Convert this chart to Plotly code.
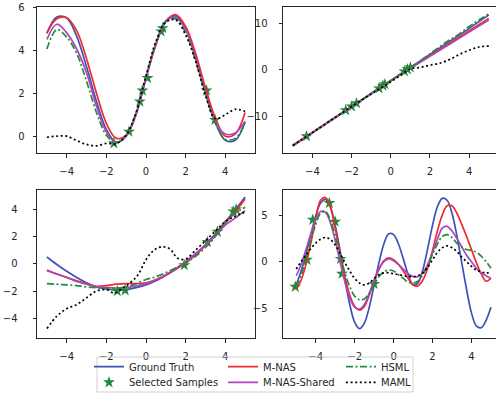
import plotly.graph_objects as go

# ---------------- data ----------------
X_H = [-5, -4.5, -4, -3.5, -3, -2.5, -2, -1.5, -1, -0.5, 0, 0.5, 1, 1.5, 2, 2.5, 3, 3.5, 4, 4.5, 5]
X_1 = [-5, -4, -3, -2, -1, 0, 1, 2, 3, 4, 5]
X_Q = [-5, -4.75, -4.5, -4.25, -4, -3.75, -3.5, -3.25, -3, -2.75, -2.5, -2.25, -2, -1.75, -1.5, -1.25,
       -1, -0.75, -0.5, -0.25, 0, 0.25, 0.5, 0.75, 1, 1.25, 1.5, 1.75, 2, 2.25, 2.5, 2.75, 3, 3.25,
       3.5, 3.75, 4, 4.25, 4.5, 4.75, 5]

# panel 1 (top-left)
tl_gt = [4.77, 5.53, 5.49, 4.65, 3.22, 1.62, 0.32, -0.28, 0.0, 1.04, 2.73, 4.26, 5.32, 5.58, 4.98, 3.68, 2.08, 0.65, -0.19, -0.19, 0.66]
tl_nas = [4.8, 5.45, 5.5, 4.9, 3.6, 2.0, 0.6, -0.1, 0.05, 1.05, 2.7, 4.25, 5.35, 5.65, 5.1, 3.85, 2.25, 0.85, 0.0, 0.1, 1.1]
tl_shared = [4.5, 5.2, 4.8, 4.05, 2.95, 1.4, 0.2, -0.3, 0.0, 1.0, 2.7, 4.3, 5.35, 5.5, 4.95, 3.6, 2.0, 0.65, 0.1, 0.15, 0.7]
tl_hsml = [4.05, 4.95, 4.6, 3.85, 2.55, 1.1, 0.05, -0.3, 0.05, 1.1, 2.75, 4.3, 5.3, 5.45, 4.8, 3.5, 1.95, 0.6, -0.15, -0.1, 0.6]
tl_maml = [-0.05, 0.0, 0.0, -0.2, -0.38, -0.45, -0.33, -0.35, 0.05, 1.1, 2.8, 4.4, 5.3, 5.4, 4.7, 3.5, 1.9, 0.82, 1.0, 1.25, 1.15]
tl_sx = [-1.62, -0.86, -0.31, -0.18, 0.08, 0.76, 0.84, 3.05, 3.48]
tl_sy = [-0.33, 0.21, 1.61, 2.12, 2.7, 4.87, 5.02, 2.12, 0.76]

# panel 2 (top-right)
tr_gt = [-16.3, -13.5, -10.7, -7.9, -5.1, -2.3, 0.5, 3.3, 6.1, 8.9, 11.8]
tr_nas = [-16.2, -13.5, -10.7, -7.9, -5.15, -2.35, 0.35, 3.0, 5.7, 8.4, 11.05]
tr_shared = [-16.4, -13.6, -10.8, -8.0, -5.2, -2.4, 0.3, 2.9, 5.5, 8.1, 10.7]
tr_hsml = [-16.3, -14.9, -13.5, -12.1, -10.7, -9.3, -7.9, -6.5, -5.1, -3.7, -2.3, -0.9, 0.5, 1.9, 3.4, 5.0, 6.4, 7.7, 9.3, 10.7, 12.0]
tr_maml_x = [-5, -4, -3, -2, -1, -0.5, 0, 0.5, 1, 1.5, 2, 2.5, 3, 3.5, 4, 4.5, 5]
tr_maml = [-16.3, -13.5, -10.7, -7.9, -5.2, -3.9, -2.6, -1.2, 0.2, 0.5, 1.0, 1.4, 2.2, 3.3, 4.2, 4.9, 5.1]
tr_sx = [-4.3, -2.3, -2.0, -1.75, -0.6, -0.4, -0.3, 0.7, 0.85, 1.0]
tr_sy = [-14.3, -8.7, -7.9, -7.2, -4.0, -3.4, -3.1, -0.35, 0.1, 0.5]

# panel 3 (bottom-left)
bl_gt = [0.5, -0.05, -0.55, -1.0, -1.4, -1.7, -1.85, -1.95, -1.9, -1.75, -1.55, -1.25, -0.85, -0.4, 0.1, 0.7, 1.4, 2.2, 3.1, 3.95, 4.9]
bl_nas = [-0.5, -0.75, -1.0, -1.25, -1.45, -1.65, -1.6, -1.5, -1.45, -1.45, -1.4, -1.2, -0.85, -0.4, 0.05, 0.65, 1.35, 2.1, 3.0, 3.8, 4.75]
bl_shared = [-0.45, -0.75, -1.0, -1.3, -1.5, -1.7, -1.75, -1.78, -1.75, -1.62, -1.45, -1.15, -0.8, -0.35, 0.2, 0.75, 1.4, 2.05, 2.85, 3.35, 3.9]
bl_hsml = [-1.45, -1.5, -1.55, -1.6, -1.7, -1.75, -1.8, -1.8, -1.7, -1.45, -1.15, -0.95, -0.65, -0.3, 0.05, 0.55, 1.2, 2.0, 3.1, 3.7, 4.15]
bl_maml_x = [-5, -4.5, -4, -3.5, -3, -2.5, -2, -1.6, -1.2, -0.8, -0.4, 0, 0.4, 0.8, 1.2, 1.6, 2, 2.5, 3, 3.5, 4, 4.5, 5]
bl_maml = [-4.75, -3.85, -3.3, -3.0, -2.5, -2.0, -1.9, -2.15, -1.8, -1.4, -0.8, 0.3, 1.0, 1.25, 1.1, 0.4, 0.35, 1.0, 1.7, 2.4, 3.1, 3.5, 3.8]
bl_sx = [-1.45, -1.05, 1.93, 3.1, 3.6, 4.4, 4.55]
bl_sy = [-2.0, -1.95, -0.1, 1.6, 2.35, 3.85, 4.0]

# panel 4 (bottom-right)
br_gt = [-2.5, -1.0, 0.8, 2.9, 4.9, 6.3, 6.7, 5.9, 3.9, 1.2, -1.9, -4.6, -6.5, -7.2, -6.6, -4.9,
         -2.5, -0.1, 1.9, 3.0, 2.9, 1.9, 0.3, -1.4, -2.5, -2.3, -0.9, 1.4, 3.9, 5.9, 6.8, 6.6, 5.2, 2.8,
         -0.1, -3.0, -5.5, -6.9, -7.1, -6.3, -4.9]
br_nas = [-3.0, -2.0, -0.3, 2.0, 4.6, 6.6, 6.9, 5.9, 3.6, 0.9, -1.6, -3.6, -4.8, -5.2, -4.8, -3.6,
          -2.1, -0.8, 0.1, 0.4, 0.2, -0.3, -1.0, -1.8, -2.5, -2.6, -2.0, -0.7, 1.2, 3.3, 5.0, 6.0, 6.0, 5.2,
          4.0, 2.7, 1.3, -0.1, -1.3, -2.1, -1.8]
br_shared = [-1.5, -0.3, 1.3, 3.0, 4.5, 5.4, 5.3, 4.2, 2.3, 0.0, -2.2, -3.9, -4.9, -5.1, -4.6, -3.4,
             -2.0, -0.8, 0.0, 0.3, 0.1, -0.3, -0.8, -1.3, -1.6, -1.6, -1.2, -0.3, 1.0, 2.4, 3.6, 3.8, 3.3, 2.5,
             1.6, 0.7, 0.0, -0.7, -1.2, -1.5, -1.8]
br_hsml = [-2.7, -1.5, 0.3, 2.3, 4.0, 5.2, 5.4, 4.5, 2.8, 0.8, -1.2, -2.7, -3.7, -4.1, -4.0, -3.4,
           -2.5, -1.6, -1.1, -0.9, -1.0, -1.4, -1.8, -2.2, -2.3, -2.1, -1.4, -0.4, 0.8, 1.9, 2.7, 2.9, 2.6, 2.0,
           1.6, 1.3, 1.2, 1.0, 0.6, 0.0, -0.7]
br_maml = [-0.8, 0.0, 0.7, 1.4, 2.0, 2.4, 2.6, 2.4, 1.8, 0.9, -0.1, -1.0, -1.8, -2.3, -2.5, -2.3,
           -1.8, -1.4, -1.2, -1.2, -1.3, -1.4, -1.5, -1.6, -1.6, -1.5, -1.2, -0.6, 0.2, 1.0, 1.5, 1.7, 1.5, 1.1,
           0.5, 0.0, -0.5, -0.9, -1.1, -1.2, -1.2]
br_sx = [-5.05, -4.45, -4.15, -3.3, -3.0, -2.72, -2.65, -1.0]
br_sy = [-2.7, 0.2, 4.5, 6.3, 4.3, 0.3, -1.3, -2.4]

# ---------------- style ----------------
C_GT = "#3f51b5"
C_NAS = "#f02a2e"
C_SH = "#ab47bc"
C_HS = "#238b3c"
C_MA = "#000000"
C_ST = "#1e8a3a"
LW = 1.7
FONT = "DejaVu Sans"
W, H = 496, 397

panels = [
    dict(x=X_H, gt=tl_gt, nas=tl_nas, sh=tl_shared, hsx=X_H, hs=tl_hsml, mx=X_H, ma=tl_maml, sx=tl_sx, sy=tl_sy),
    dict(x=X_1, gt=tr_gt, nas=tr_nas, sh=tr_shared, hsx=X_H, hs=tr_hsml, mx=tr_maml_x, ma=tr_maml, sx=tr_sx, sy=tr_sy),
    dict(x=X_H, gt=bl_gt, nas=bl_nas, sh=bl_shared, hsx=X_H, hs=bl_hsml, mx=bl_maml_x, ma=bl_maml, sx=bl_sx, sy=bl_sy),
    dict(x=X_Q, gt=br_gt, nas=br_nas, sh=br_shared, hsx=X_Q, hs=br_hsml, mx=X_Q, ma=br_maml, sx=br_sx, sy=br_sy),
]

fig = go.Figure()
for i, p in enumerate(panels):
    ax = "" if i == 0 else str(i + 1)
    xa, ya = "x" + ax, "y" + ax
    first = i == 0
    fig.add_trace(go.Scatter(x=p["x"], y=p["gt"], mode="lines", name="Ground Truth",
                             line=dict(color=C_GT, width=LW, shape="spline", smoothing=1.0),
                             xaxis=xa, yaxis=ya, showlegend=first, legend="legend"))
    fig.add_trace(go.Scatter(x=p["sx"], y=p["sy"], mode="markers", name="Selected Samples",
                             marker=dict(symbol="star", size=9, color=C_ST, line=dict(width=0)),
                             xaxis=xa, yaxis=ya, showlegend=first, legend="legend2"))
    fig.add_trace(go.Scatter(x=p["x"], y=p["nas"], mode="lines", name="M-NAS",
                             line=dict(color=C_NAS, width=LW, shape="spline", smoothing=1.0),
                             xaxis=xa, yaxis=ya, showlegend=first, legend="legend3"))
    fig.add_trace(go.Scatter(x=p["x"], y=p["sh"], mode="lines", name="M-NAS-Shared",
                             line=dict(color=C_SH, width=LW, shape="spline", smoothing=1.0),
                             xaxis=xa, yaxis=ya, showlegend=first, legend="legend4"))
    fig.add_trace(go.Scatter(x=p["hsx"], y=p["hs"], mode="lines", name="HSML",
                             line=dict(color=C_HS, width=LW, dash="7px,2.5px,2px,2.5px", shape="spline", smoothing=1.0),
                             xaxis=xa, yaxis=ya, showlegend=first, legend="legend5"))
    fig.add_trace(go.Scatter(x=p["mx"], y=p["ma"], mode="lines", name="MAML",
                             line=dict(color=C_MA, width=LW, dash="2px,2.6px", shape="spline", smoothing=1.0),
                             xaxis=xa, yaxis=ya, showlegend=first, legend="legend6"))

axis_common = dict(showline=True, linecolor="#262626", linewidth=1, ticks="outside", ticklen=3.5,
                   tickwidth=1, tickcolor="#262626", showgrid=False, zeroline=False, automargin=False,
                   tickfont=dict(family=FONT, size=10, color="#262626"))

# positions in pixels of the 496x397 window
def fx(a):
    return a / W

def fy(b):
    return 1 - b / H

dom_xl = [fx(37), fx(255)]
dom_xr = [fx(283), 1.0]
dom_yt = [fy(153), fy(7)]
dom_yb = [fy(338), fy(190)]

xt = [-4, -2, 0, 2, 4]
fig.update_layout(
    xaxis=dict(domain=dom_xl, range=[-5.5, 5.5], tickvals=xt, anchor="y", mirror=True, ticklabelstandoff=5, **axis_common),
    yaxis=dict(domain=dom_yt, range=[-0.78, 6.0], tickvals=[0, 2, 4, 6], anchor="x", mirror=True, ticklabelstandoff=6, **axis_common),
    xaxis2=dict(domain=dom_xr, range=[-5.5, 5.37], tickvals=xt, anchor="y2", mirror=True, ticklabelstandoff=5, **axis_common),
    yaxis2=dict(domain=dom_yt, range=[-17.9, 13.5], tickvals=[-10, 0, 10], anchor="x2", mirror=False, ticklabelstandoff=9, **axis_common),
    xaxis3=dict(domain=dom_xl, range=[-5.5, 5.5], tickvals=xt, anchor="y3", mirror=True, ticklabelstandoff=5, **axis_common),
    yaxis3=dict(domain=dom_yb, range=[-5.45, 5.42], tickvals=[-4, -2, 0, 2, 4], anchor="x3", mirror=True, ticklabelstandoff=13, **axis_common),
    xaxis4=dict(domain=dom_xr, range=[-5.68, 5.26], tickvals=xt, anchor="y4", mirror=True, ticklabelstandoff=9, **axis_common),
    yaxis4=dict(domain=dom_yb, range=[-8.2, 7.7], tickvals=[-5, 0, 5], anchor="x4", mirror=False, ticklabelstandoff=9, **axis_common),
)
fig.update_layout(xaxis4=dict(ticklabelstandoff=5))

leg_common = dict(font=dict(family=FONT, size=10, color="#262626"), bgcolor="rgba(0,0,0,0)",
                  borderwidth=0, itemwidth=30, yanchor="middle", xanchor="left", orientation="v")
row1, row2 = fy(366.7), fy(382.3)
col1, col2, col3 = fx(89), fx(223), fx(341)
fig.update_layout(
    legend=dict(x=col1, y=row1, **leg_common),
    legend2=dict(x=col1, y=row2, **leg_common),
    legend3=dict(x=col2, y=row1, **leg_common),
    legend4=dict(x=col2, y=row2, **leg_common),
    legend5=dict(x=col3, y=row1, **leg_common),
    legend6=dict(x=col3, y=row2, **leg_common),
)

fig.add_shape(type="rect", xref="paper", yref="paper",
              x0=fx(97), x1=fx(413), y0=fy(392), y1=fy(357),
              line=dict(color="#d0d0d0", width=1), fillcolor="rgba(0,0,0,0)")

fig.update_layout(width=W, height=H, margin=dict(l=0, r=0, t=0, b=0, pad=0, autoexpand=False),
                  paper_bgcolor="white", plot_bgcolor="white",
                  font=dict(family=FONT, size=10, color="#262626"))

fig.write_html("out.html", config={"displayModeBar": False},
               post_script="document.body.style.margin='0';document.body.style.overflow='hidden';")
